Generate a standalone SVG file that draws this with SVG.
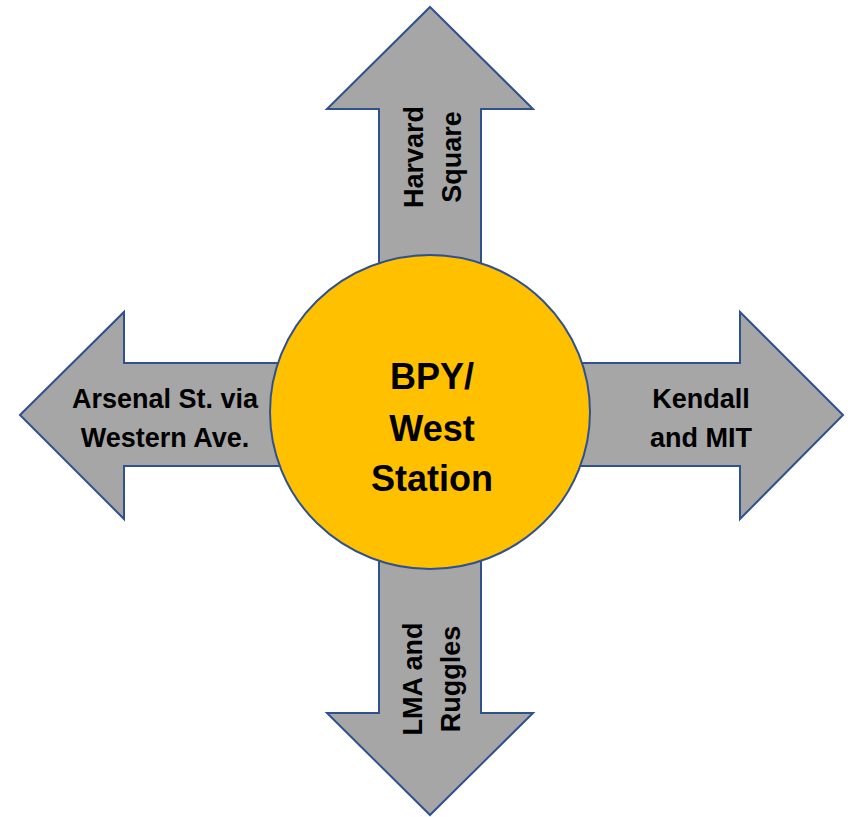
<svg xmlns="http://www.w3.org/2000/svg" width="851" height="817" viewBox="0 0 851 817">
<style>
.arrow{fill:#A6A6A6;stroke:#2F528F;stroke-width:2;stroke-linejoin:miter}
.hub{fill:#FFC000;stroke:#2F528F;stroke-width:2}
.lbl{font-family:"Liberation Sans",Arial,sans-serif;font-weight:bold;fill:#000;text-anchor:middle}
.side{font-size:27px}
.main{font-size:36px}
</style>
<rect width="851" height="817" fill="#fff"/>
<g id="connectors">
<g id="arrow-up">
<polygon class="arrow" points="430,7 533,109 481,109 481,300 379,300 379,109 327,109"/>
<text class="lbl side" transform="translate(423,157) rotate(-90)"><tspan x="0" y="0">Harvard</tspan><tspan x="0" y="38">Square</tspan></text>
</g>
<g id="arrow-down">
<polygon class="arrow" points="430,815 533,713 481,713 481,520 379,520 379,713 327,713"/>
<text class="lbl side" transform="translate(422,679) rotate(-90)"><tspan x="0" y="0">LMA and</tspan><tspan x="0" y="38">Ruggles</tspan></text>
</g>
<g id="arrow-left">
<polygon class="arrow" points="20,415 124,312 124,363 350,363 350,466 124,466 124,519"/>
<text class="lbl side"><tspan x="165" y="408">Arsenal St. via</tspan><tspan x="165" y="447">Western Ave.</tspan></text>
</g>
<g id="arrow-right">
<polygon class="arrow" points="843,415 740,312 740,363 510,363 510,466 740,466 740,519"/>
<text class="lbl side"><tspan x="701" y="408">Kendall</tspan><tspan x="701" y="447">and MIT</tspan></text>
</g>
</g>
<g id="hub">
<ellipse class="hub" cx="430" cy="412" rx="160" ry="157"/>
<text class="lbl main"><tspan x="432" y="389">BPY/</tspan><tspan x="432" y="441">West</tspan><tspan x="432" y="491">Station</tspan></text>
</g>
</svg>
